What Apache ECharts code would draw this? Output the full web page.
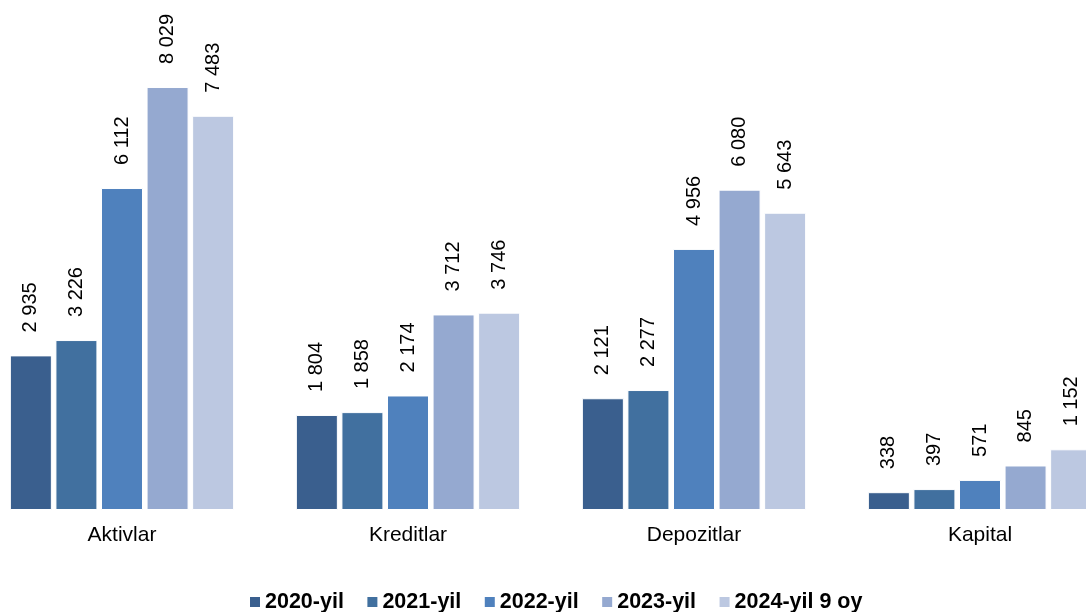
<!DOCTYPE html>
<html><head><meta charset="utf-8">
<script src="https://cdn.jsdelivr.net/npm/echarts@6/dist/echarts.min.js"></script>
<style>html,body{margin:0;padding:0;background:#fff;overflow:hidden;width:1086px;height:612px}#c{width:1144px;height:612px;margin-left:-21px}</style>
</head><body><div id="c"></div>
<script>
const categories = ['Aktivlar', 'Kreditlar', 'Depozitlar', 'Kapital'];
const seriesNames = ['2020-yil', '2021-yil', '2022-yil', '2023-yil', '2024-yil 9 oy'];
const s2020 = [2935, 1804, 2121, 338];
const s2021 = [3226, 1858, 2277, 397];
const s2022 = [6112, 2174, 4956, 571];
const s2023 = [8029, 3712, 6080, 845];
const s2024 = [7483, 3746, 5643, 1152];
const colors = ['#3A5F8E', '#41709F', '#4F81BD', '#95A9D0', '#BCC8E1'];
const values = [s2020, s2021, s2022, s2023, s2024];

const fmt = v => {
  const s = String(v);
  return s.length > 3 ? s.slice(0, s.length - 3) + ' ' + s.slice(-3) : s;
};
const font = '"Liberation Sans", Arial, sans-serif';
const chart = echarts.init(document.getElementById('c'), null, {renderer: 'canvas'});
chart.setOption({
  animation: false,
  color: colors,
  grid: {left: 0, right: 0, top: 0, bottom: 102, containLabel: false},
  legend: {
    left: 269, top: 591, padding: 0, itemWidth: 12, itemHeight: 12, itemGap: 21.5,
    icon: 'rect',
    textStyle: {fontFamily: font, fontSize: 21.5, fontWeight: 'bold', color: '#000', padding: [0, 0, 0, -1]},
    data: seriesNames
  },
  xAxis: {
    type: 'category', data: categories,
    axisLine: {show: false}, axisTick: {show: false},
    axisLabel: {fontFamily: font, fontSize: 21, color: '#000', margin: 15}
  },
  yAxis: {type: 'value', min: 0, max: 9681, show: false, splitLine: {show: false}},
  series: seriesNames.map((n, i) => ({
    name: n, type: 'bar', data: values[i],
    barWidth: 42, barGap: '8.5%',
    itemStyle: {color: colors[i], borderColor: '#fff', borderWidth: 1},
    label: {
      show: true, position: 'top', rotate: 90, align: 'left', verticalAlign: 'middle',
      distance: 23, fontFamily: font, fontSize: 20, color: '#000',
      formatter: p => fmt(p.value)
    }
  }))
});
</script></body></html>
